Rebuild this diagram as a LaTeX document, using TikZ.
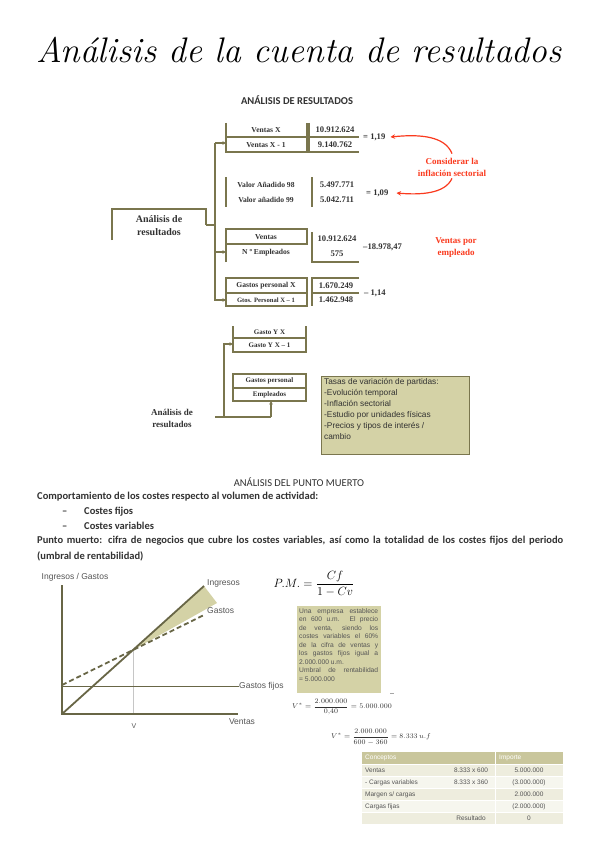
\documentclass[tikz,border=0pt]{standalone}
\usepackage{fontspec}
\usepackage{amsmath}
\usetikzlibrary{arrows.meta,calc,positioning}
\newfontfamily\tnr{Liberation Serif}
\newfontfamily\calib{Carlito}
\newfontfamily\arl{Liberation Sans}
\definecolor{olv}{RGB}{122,118,78}
\definecolor{chln}{RGB}{104,102,70}
\definecolor{khk}{RGB}{212,210,166}
\definecolor{redc}{RGB}{250,58,30}
\definecolor{dtx}{RGB}{50,50,50}
\definecolor{gtx}{RGB}{85,85,85}
\definecolor{thead}{RGB}{201,198,156}
\definecolor{trowa}{RGB}{238,237,222}
\definecolor{trowb}{RGB}{246,246,238}
\newcommand{\fsz}[2]{\fontsize{#1}{#2}\selectfont}
\newcommand{\jl}[1]{\makebox[79pt][s]{#1}}

\begin{document}
\begin{tikzpicture}[x=1pt,y=-1pt,>={Stealth[length=3.5pt,width=3.5pt]},
  ln/.style={draw=olv,line width=1.1pt},
  lbl/.style={inner sep=0pt,text=dtx,font=\tnr\bfseries\fsz{7.6}{9}},
  num/.style={inner sep=0pt,text=dtx,font=\tnr\bfseries\fsz{8.6}{9}},
  redtx/.style={inner sep=0pt,text=redc,align=center,font=\tnr\bfseries\fsz{9}{12}},
  redarr/.style={draw=redc,line width=1.2pt,-{Stealth[length=4.5pt,width=4.5pt]}},
  body/.style={inner sep=0pt,anchor=west,text height=7.5pt,text depth=2pt,text=dtx,font=\calib\bfseries\fsz{10.5}{12}},
  chtx/.style={inner sep=0pt,text=gtx,font=\arl\fsz{8.5}{10}},
  tcell/.style={inner sep=0pt,text=gtx,font=\arl\fsz{6.5}{8}}]
\useasboundingbox[fill=white] (0,0) rectangle (599,848);

\node[inner sep=0pt,font=\itshape\fsz{35.5}{40}] (title) at (299,50) {Análisis de la cuenta de resultados};
\node[inner sep=0pt,text=dtx,font=\calib\bfseries\fsz{10.5}{12}] (h1) at (297,100) {ANÁLISIS DE RESULTADOS};

% first scheme
\node[inner sep=0pt,text=dtx,align=center,font=\tnr\bfseries\fsz{10}{12.5}] (ar) at (159,225.5) {Análisis de\\resultados};
\draw[ln] (112,240) |- (206,209) -- (206,225) coordinate (arout);
\coordinate (trk) at (215,225);
\draw[ln] (arout) -- (trk);
\draw[ln] (215,143) coordinate (tr1) -- (215,300) coordinate (tr4) -- (226,300) coordinate (b4w);
\coordinate (b1w) at (226,143); \coordinate (tr3) at (215,252); \coordinate (b3w) at (226,252);
\draw[ln,->] (tr1) -- (b1w);
\draw[ln,->] (tr3) -- (b3w);
\draw[ln,->] ($(b4w)+(-3,0)$) -- (b4w);
% boxes
\draw[ln] (226,123) -- (226,152) -- (307,152) -- (307,123); \draw[ln] (226,137) -- (307,137);
\draw[ln] (309,123) -- (309,152) -- (359,152); \draw[ln] (309,137) -- (359,137);
\draw[ln] (226,177) -- (226,207); \draw[ln] (312,177) -- (312,207);
\draw[ln] (226,262) |- (307,229) -- (307,244) -- (226,244);
\draw[ln] (312,232) -- (312,262) -- (359,262);
\draw[ln] (226,278) rectangle (307,306); \draw[ln] (226,293) -- (307,293);
\draw[ln] (359,278) -| (312,306); \draw[ln] (312,293) -- (359,293);
\foreach \n/\x/\y/\t in {v1a/266/130/Ventas X, v1b/266/145/Ventas X - 1, v2a/266/185/Valor Añadido 98, v2b/266/200/Valor añadido 99,
  v3a/266/237/Ventas, v3b/266/253/N º Empleados, v4a/266/286/Gastos personal X}
  \node[lbl] (\n) at (\x,\y) {\t};
\node[lbl,font=\tnr\bfseries\fsz{6.6}{8}] (v4b) at (266,300) {Gtos. Personal X – 1};
\foreach \n/\x/\y/\t in {n1a/335/130/10.912.624, n1b/335/145/9.140.762, n2a/337/185/5.497.771, n2b/337/200/5.042.711,
  n3a/337/239/10.912.624, n3b/337/254/575, n4a/336/286/1.670.249, n4b/336/300/1.462.948}
  \node[num] (\n) at (\x,\y) {\t};
\foreach \n/\x/\y/\t in {r1/363/137/= 1\hbox{,}19, r2/366/193/= 1\hbox{,}09, r3/363/247/–18.978\hbox{,}47, r4/364/293/– 1\hbox{,}14}
  \node[num,anchor=west] (\n) at (\x,\y) {\t};
\node[redtx] (cons) at (452,167) {Considerar la\\inflación sectorial};
\node[redtx] (vpe) at (456,248) {Ventas por\\empleado};
\draw[redarr] ([yshift=4pt]cons.north) .. controls (445,136) and (420,134) .. ([xshift=5pt]r1.east);
\draw[redarr] ([yshift=-2pt]cons.south) .. controls (445,194) and (420,195) .. ([xshift=8pt]r2.east);

% second scheme
\draw[ln] (233,326) -- (233,352) -- (306,352) -- (306,326); \draw[ln] (233,338) -- (306,338);
\draw[ln] (233,374) rectangle (306,401); \draw[ln] (233,388) -- (306,388);
\node[lbl,font=\tnr\bfseries\fsz{7}{8}] (gy1) at (269.5,332) {Gasto Y X};
\node[lbl,font=\tnr\bfseries\fsz{7}{8}] (gy2) at (269.5,345) {Gasto Y X – 1};
\node[lbl,font=\tnr\bfseries\fsz{7}{8}] (gp1) at (269.5,381) {Gastos personal};
\node[lbl,font=\tnr\bfseries\fsz{7}{8}] (gp2) at (269.5,395) {Empleados};
\node[inner sep=0pt,text=dtx,align=center,font=\tnr\bfseries\fsz{9}{12}] (ar2) at (172,418) {Análisis de\\resultados};
\coordinate (s0) at (215,417); \coordinate (s1) at (224,417); \coordinate (s2) at (271,417);
\draw[ln] (s0) -- (s2);
\draw[ln,->] (s1) |- (233,344);
\draw[ln,->] (s2) -- (271,401);
\node[draw=olv,line width=0.9pt,fill=khk,minimum width=148pt,minimum height=78pt,inner sep=0pt] (tasas) at (395,415) {};
\node[inner sep=0pt,anchor=north west,align=left,text=dtx,font=\arl\fsz{8.3}{11}] (tasastx) at (324,378)
  {Tasas de variación de partidas:\\-Evolución temporal\\-Inflación sectorial\\-Estudio por unidades físicas\\-Precios y tipos de interés /\\cambio};

% punto muerto
\node[inner sep=0pt,text=dtx,font=\calib\fsz{10.5}{12}] (h2) at (299,482) {ANÁLISIS DEL PUNTO MUERTO};
\node[body] (p1) at (37,497) {Comportamiento de los costes respecto al volumen de actividad:};
\foreach \n/\y/\t in {cf/512/Costes fijos, cv/527/Costes variables} {
  \node[body] (d\n) at (62,\y) {–};
  \node[body] (\n) at (84,\y) {\t}; }
\node[body] (p2) at (37,541) {\makebox[526pt][s]{Punto muerto: cifra de negocios que cubre los costes variables, así como la totalidad de los costes fijos del periodo}};
\node[body] (p3) at (37,557) {(umbral de rentabilidad)};

% chart
\coordinate (O) at (62,714); \coordinate (ytop) at (62,585); \coordinate (xend) at (238,714);
\coordinate (be) at (133,650); \coordinate (ie) at (204,586); \coordinate (te) at (217,603);
\coordinate (gs) at (62,685); \coordinate (ge) at (204,615);
\fill[khk] (be) -- (ie) -- (te) -- cycle;
\draw[gray!45,line width=0.5pt] (be) -- (be|-O);
\node[chtx,anchor=west] (gf) at (239,686) {Gastos fijos};
\draw[chln,line width=0.9pt] (62,686) -- (gf.west);
\draw[chln,line width=1.8pt] (O) -- (ie);
\draw[chln,line width=1.8pt,dash pattern=on 5pt off 3pt] (gs) -- (ge);
\draw[chln,line width=2.2pt] (ytop) -- (O) -- (xend);
\node[chtx] (ig) at (75,577) {Ingresos / Gastos};
\node[chtx,anchor=west] (ing) at (207,583) {Ingresos};
\node[chtx,anchor=west] (gas) at (207,611) {Gastos};
\node[chtx] (vtas) at (242,722) {Ventas};
\node[chtx,font=\arl\fsz{7}{8}] (vv) at (134,726) {V};

% formulas
\node[inner sep=0pt,font=\fsz{12}{14}] (pm) at (314,584) {$P.M.=\dfrac{Cf}{1-Cv}$};
\node[fill=khk,minimum width=84pt,minimum height=87pt,inner sep=0pt] (ej) at (339,649.5) {};
\node[inner sep=0pt,anchor=north west,align=left,text=gtx,font=\arl\fsz{6.7}{8.5}] (ejtx) at (299,608)
  {\jl{Una empresa establece}\\\jl{en 600 u.m. El precio}\\\jl{de venta, siendo los}\\\jl{costes variables el 60\%}\\\jl{de la cifra de ventas y}\\\jl{los gastos fijos igual a}\\2.000.000 u.m.\\\jl{Umbral de rentabilidad}\\= 5.000.000};
\draw[gray!70,line width=0.6pt] (390,693) -- (394,693);
\node[inner sep=0pt,anchor=west,text=dtx,font=\fsz{7}{8}] (f1) at (292,707) {$V^{*}=\dfrac{2.000.000}{0{,}40}=5.000.000$};
\node[inner sep=0pt,anchor=west,text=dtx,font=\fsz{7}{8}] (f2) at (331,737) {$V^{*}=\dfrac{2.000.000}{600-360}=8.333\,u.f$};

% table
\fill[thead] (362,752) rectangle (494.5,764); \fill[thead] (496,752) rectangle (563,764);
\node[tcell,anchor=west,text=white] (th1) at (365,758) {Conceptos};
\node[tcell,anchor=west,text=white] (th2) at (499,758) {Importe};
\foreach \i/\ca/\cb/\cc in {1/Ventas/8.333 x 600/5.000.000, 2/- Cargas variables/8.333 x 360/(3.000.000),
  3/{Margen s/ cargas}//2.000.000, 4/Cargas fijas//(2.000.000), 5//Resultado/0} {
  \pgfmathsetmacro{\yt}{752+12*\i}
  \ifodd\i \def\rc{trowa}\else\def\rc{trowb}\fi
  \fill[\rc] (362,\yt+1) rectangle (494.5,\yt+12); \fill[\rc] (496,\yt+1) rectangle (563,\yt+12);
  \node[tcell,anchor=west] (c\i a) at (365,\yt+6.5) {\ca};
  \node[tcell] (c\i b) at (471,\yt+6.5) {\cb};
  \node[tcell] (c\i c) at (529,\yt+6.5) {\cc}; }
\end{tikzpicture}
\end{document}
